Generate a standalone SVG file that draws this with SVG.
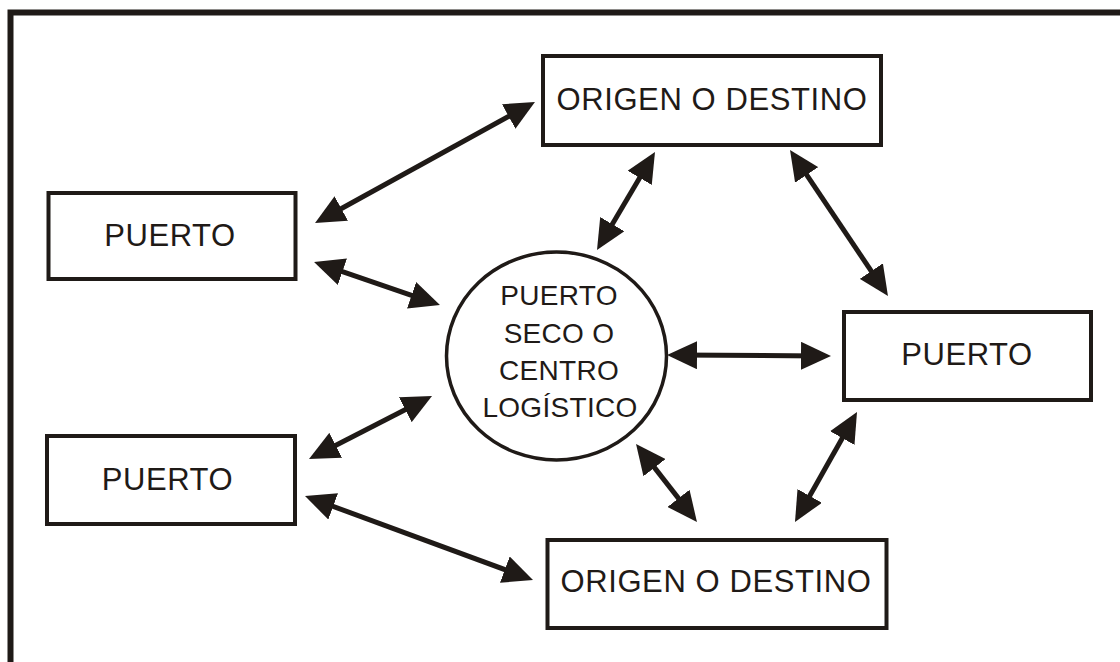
<svg xmlns="http://www.w3.org/2000/svg" width="1120" height="662" viewBox="0 0 1120 662">
  <style>
    .frame { fill: none; stroke: #1f1a17; stroke-width: 6; }
    .box { fill: #ffffff; stroke: #1f1a17; stroke-width: 4; }
    .hub { fill: #ffffff; stroke: #1f1a17; stroke-width: 3.5; }
    .lbl { font-family: "Liberation Sans", Arial, sans-serif; font-size: 31px; fill: #1f1a17; text-anchor: middle; letter-spacing: 0.6px; }
    .hubl { font-family: "Liberation Sans", Arial, sans-serif; font-size: 28px; fill: #1f1a17; text-anchor: middle; letter-spacing: 0.3px; }
    .link { fill: none; stroke: #1f1a17; stroke-width: 5; marker-start: url(#head); marker-end: url(#head); }
  </style>
  <defs>
    <marker id="head" markerUnits="userSpaceOnUse" markerWidth="30" markerHeight="28" refX="20" refY="14" orient="auto-start-reverse">
      <path d="M0,0 L30,14 L0,28 Z" fill="#1f1a17"/>
    </marker>
  </defs>

  <rect width="1120" height="662" fill="#ffffff"/>
  <rect class="frame" x="10.5" y="12.5" width="1200" height="700"/>

  <g id="connectors">
    <line class="link" x1="323.8" y1="218.2" x2="526.2" y2="106.8"/>
    <line class="link" x1="323.5" y1="265.2" x2="430.5" y2="301.8"/>
    <line class="link" x1="317.9" y1="454.4" x2="423.1" y2="400.6"/>
    <line class="link" x1="314.4" y1="499.5" x2="523.6" y2="576.5"/>
    <line class="link" x1="649.9" y1="160.6" x2="602.1" y2="241.4"/>
    <line class="link" x1="795.6" y1="158.3" x2="882.4" y2="287.7"/>
    <line class="link" x1="677" y1="355.1" x2="821" y2="355.9"/>
    <line class="link" x1="642.2" y1="451.9" x2="690.8" y2="514.1"/>
    <line class="link" x1="799.9" y1="513.3" x2="852.1" y2="420.7"/>
  </g>

  <g id="origen-top">
    <rect class="box" x="543" y="56" width="338" height="89"/>
    <text class="lbl" x="712" y="110">ORIGEN O DESTINO</text>
  </g>

  <g id="puerto-left-top">
    <rect class="box" x="48.5" y="193" width="247" height="86"/>
    <text class="lbl" x="170" y="246">PUERTO</text>
  </g>

  <g id="puerto-left-bottom">
    <rect class="box" x="47" y="436" width="248" height="88"/>
    <text class="lbl" x="167.5" y="490">PUERTO</text>
  </g>

  <g id="puerto-right">
    <rect class="box" x="844" y="312" width="247" height="88"/>
    <text class="lbl" x="967" y="365">PUERTO</text>
  </g>

  <g id="origen-bottom">
    <rect class="box" x="547.5" y="540" width="339" height="88"/>
    <text class="lbl" x="716" y="592">ORIGEN O DESTINO</text>
  </g>

  <g id="puerto-seco">
    <ellipse class="hub" cx="556.5" cy="356" rx="110" ry="104"/>
    <text class="hubl" x="559" y="305">PUERTO</text>
    <text class="hubl" x="559" y="343">SECO O</text>
    <text class="hubl" x="559" y="380">CENTRO</text>
    <text class="hubl" x="560" y="417">LOGÍSTICO</text>
  </g>
</svg>
